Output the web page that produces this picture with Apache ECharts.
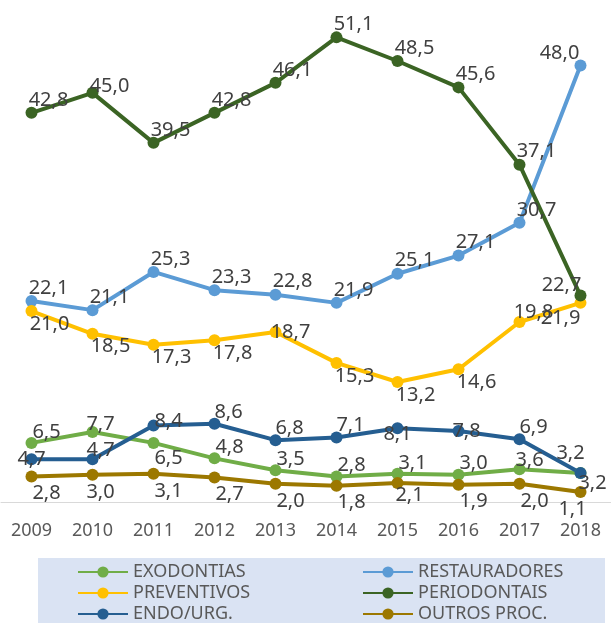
<!DOCTYPE html>
<html>
<head>
<meta charset="utf-8">
<script src="https://cdn.jsdelivr.net/npm/echarts@6/dist/echarts.min.js"></script>
<style>
  html, body { margin: 0; padding: 0; background: #fff; }
  #chart { width: 611px; height: 623px; }
</style>
</head>
<body>
<div id="chart"></div>
<script>
// anos no eixo x
const years = ['2009', '2010', '2011', '2012', '2013', '2014', '2015', '2016', '2017', '2018'];

// valores (%)
const exodontias    = [6.5, 7.7, 6.5, 4.8, 3.5, 2.8, 3.1, 3.0, 3.6, 3.2];
const restauradores = [22.1, 21.1, 25.3, 23.3, 22.8, 21.9, 25.1, 27.1, 30.7, 48.0];
const preventivos   = [21.0, 18.5, 17.3, 17.8, 18.7, 15.3, 13.2, 14.6, 19.8, 21.9];
const periodontais  = [42.8, 45.0, 39.5, 42.8, 46.1, 51.1, 48.5, 45.6, 37.1, 22.7];
const endoUrg       = [4.7, 4.7, 8.4, 8.6, 6.8, 7.1, 8.1, 7.8, 6.9, 3.2];
const outrosProc    = [2.8, 3.0, 3.1, 2.7, 2.0, 1.8, 2.1, 1.9, 2.0, 1.1];

// posição dos rótulos (deslocamento em px) - padrão e exceções por ponto
const ABOVE = [17, -13];

const seriesDefs = [
  { name: 'EXODONTIAS', data: exodontias, color: '#70ad47', off: [15, -11],
    fix: { 1: [8, -8], 2: [15, 15], 8: [10, -9], 9: [12, 10] } },
  { name: 'RESTAURADORES', data: restauradores, color: '#5b9bd5', off: ABOVE,
    fix: { 9: [-21, -12] } },
  { name: 'PREVENTIVOS', data: preventivos, color: '#ffc000', off: [18, 13],
    fix: { 4: [15, 0], 8: [14, -10], 9: [-20, 15] } },
  { name: 'PERIODONTAIS', data: periodontais, color: '#3b6424', off: ABOVE,
    fix: { 1: [17, -7], 9: [-19, -10] } },
  { name: 'ENDO/URG.', data: endoUrg, color: '#255e91', off: [14, -12],
    fix: { 0: [0, 0], 1: [8, -9], 2: [15, -4], 6: [0, 6], 7: [8, 0], 9: [-10, -20] } },
  { name: 'OUTROS PROC.', data: outrosProc, color: '#9c7800', off: [15, 17],
    fix: { 1: [8, 18], 6: [12, 12], 9: [-8, 17] } },
];

const fmt = v => v.toFixed(1).replace('.', ',');

const chart = echarts.init(document.getElementById('chart'));

const legendBase = {
  orient: 'vertical', top: 561.5, height: 90, padding: 0,
  itemWidth: 50, itemHeight: 14, itemGap: 0,
  textStyle: { color: '#595959', fontSize: 18, lineHeight: 21 },
};

const option = {
  animation: false,
  textStyle: { fontFamily: 'Noto Sans' },
  graphic: [{
    type: 'rect',
    shape: { x: 38, y: 558, width: 567, height: 65 },
    style: { fill: '#dae3f3' },
    z: -1,
  }],
  grid: { top: 11, bottom: 121, left: 1, right: -5 },
  xAxis: {
    type: 'category',
    data: years,
    boundaryGap: true,
    axisLine: { lineStyle: { color: '#d9d9d9', width: 1 } },
    axisTick: { show: false },
    axisLabel: { color: '#595959', fontSize: 18, margin: 20 },
  },
  yAxis: {
    type: 'value', min: 0, max: 54,
    show: false,
    splitLine: { show: false },
  },
  legend: [
    { ...legendBase, left: 77, data: ['EXODONTIAS', 'PREVENTIVOS', 'ENDO/URG.'] },
    { ...legendBase, left: 362, data: ['RESTAURADORES', 'PERIODONTAIS', 'OUTROS PROC.'] },
  ],
  series: seriesDefs.map(s => ({
    name: s.name,
    type: 'line',
    data: s.data.map((v, i) => s.fix[i] ? { value: v, label: { offset: s.fix[i] } } : v),
    symbol: 'circle',
    symbolSize: 12,
    lineStyle: { width: 4, color: s.color },
    itemStyle: { color: s.color },
    label: {
      show: true,
      position: 'inside',
      offset: s.off,
      color: '#404040',
      fontSize: 20,
      formatter: p => fmt(p.value),
    },
  })),
};

chart.setOption(option);
</script>
</body>
</html>
